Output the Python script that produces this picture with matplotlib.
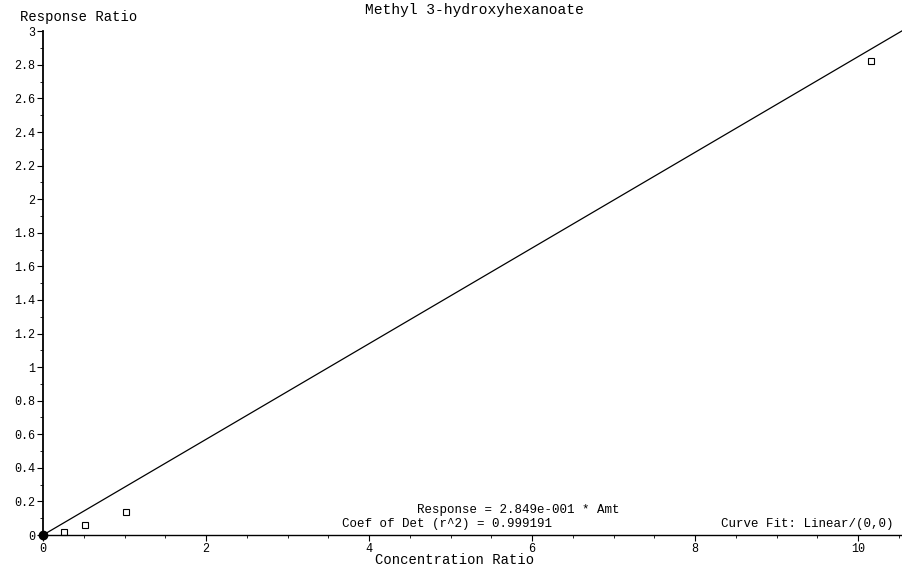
import numpy as np
import matplotlib
matplotlib.use('Agg')
import matplotlib.pyplot as plt
from matplotlib.ticker import MultipleLocator, FormatStrFormatter

# calibration data
conc = [0.26, 0.51, 1.02, 10.16]
resp = [0.018, 0.06, 0.14, 2.82]
origin_x = [0.0]
origin_y = [0.0]
slope = 2.849e-001
x_fit = [0.0, 10.6]
title = 'Methyl 3-hydroxyhexanoate'

plt.rcParams['font.family'] = ['Liberation Mono', 'DejaVu Sans Mono']

fig = plt.figure(figsize=(9.03, 5.68), dpi=100)
ax = fig.add_axes([0.0476, 0.058, 0.9524, 0.887])

# fit line
ax.plot(x_fit, [slope * v for v in x_fit], color='black', lw=0.9, clip_on=False)
# points
ax.plot(conc, resp, ls='none', marker='s', mfc='white', mec='black', ms=5, mew=0.8, clip_on=False)
ax.plot(origin_x, origin_y, ls='none', marker='o', color='black', ms=6, clip_on=False, zorder=5)

ax.set_xlim(0, 10.55)
ax.set_ylim(0, 3)
for sp in ['top', 'right']:
    ax.spines[sp].set_visible(False)
ax.spines['left'].set_linewidth(1.3)
ax.spines['bottom'].set_linewidth(1.0)

ax.xaxis.set_major_locator(MultipleLocator(2))
ax.xaxis.set_minor_locator(MultipleLocator(0.5))
ax.yaxis.set_major_locator(MultipleLocator(0.2))
ax.yaxis.set_minor_locator(MultipleLocator(0.1))
ax.xaxis.set_major_formatter(FormatStrFormatter('%g'))
ax.yaxis.set_major_formatter(FormatStrFormatter('%g'))
ax.tick_params(axis='both', which='major', length=4, width=0.8, labelsize=8.5, pad=1.5)
ax.tick_params(axis='both', which='minor', length=2.5, width=0.6)

fig.text(0.022, 0.970, 'Response Ratio', fontsize=10, ha='left', va='center')
fig.text(0.525, 0.982, title, fontsize=10.5, ha='center', va='center')
fig.text(0.503, 0.014, 'Concentration Ratio', fontsize=10, ha='center', va='center')
# fit summary
fig.text(0.574, 0.102, 'Response = 2.849e-001 * Amt', fontsize=9, ha='center', va='center')
fig.text(0.379, 0.078, 'Coef of Det (r^2) = 0.999191', fontsize=9, ha='left', va='center')
fig.text(0.989, 0.078, 'Curve Fit: Linear/(0,0)', fontsize=9, ha='right', va='center')

fig.savefig('out.png', dpi=100)
